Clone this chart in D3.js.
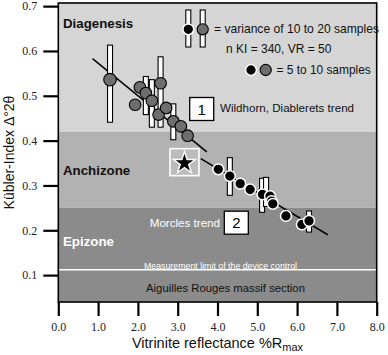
<!DOCTYPE html>
<html>
<head>
<meta charset="utf-8">
<script src="https://cdn.jsdelivr.net/npm/d3@7"></script>
<style>
  html, body { margin: 0; padding: 0; background: #fff; }
  svg { display: block; font-family: "Liberation Sans", Arial, sans-serif; }
</style>
</head>
<body>
<div id="chart"></div>
<script>
// ---- data ----
const xTicks = [0, 1, 2, 3, 4, 5, 6, 7, 8];
const yTicks = [0.1, 0.2, 0.3, 0.4, 0.5, 0.6, 0.7];

// zones (Kübler-Index limits)
const zoneNames = ['Diagenesis', 'Anchizone', 'Epizone'];
const zoneTop = [0.707, 0.42, 0.25];
const zoneBottom = [0.42, 0.25, 0.04];
const zoneFill = ['#d5d5d5', '#b2b2b2', '#8b8b8b'];
const measureLimit = 0.112;

// Wildhorn, Diablerets samples (grey)
const grayVR = [1.30, 2.05, 2.20, 1.93, 2.35, 2.57, 2.52, 2.71, 2.89, 3.08, 3.25];
const grayKI = [0.536, 0.519, 0.506, 0.480, 0.489, 0.528, 0.458, 0.473, 0.443, 0.432, 0.411];
// Morcles samples (black)
const blackVR = [4.02, 4.31, 4.57, 4.82, 5.13, 5.32, 5.36, 5.39, 5.72, 6.12, 6.30];
const blackKI = [0.336, 0.321, 0.304, 0.291, 0.280, 0.276, 0.265, 0.259, 0.232, 0.213, 0.221];

// variance bars
const barVR = [1.30, 2.20, 2.35, 2.57, 2.89, 4.31, 5.12, 5.22, 6.30];
const barLow = [0.441, 0.458, 0.430, 0.430, 0.402, 0.278, 0.240, 0.253, 0.196];
const barHigh = [0.613, 0.543, 0.536, 0.587, 0.482, 0.362, 0.316, 0.318, 0.243];

// trend lines
const trend1 = [[0.86, 0.583], [3.73, 0.375]];
const trend2 = [[3.58, 0.360], [6.77, 0.190]];

// star sample
const star = [3.17, 0.352];

const width = 388, height = 355;
const margin = { top: 3, right: 11.3, bottom: 53, left: 58.3 };

const svg = d3.select('#chart').append('svg')
  .attr('width', width)
  .attr('height', height);

const x = d3.scaleLinear().domain([0, 8]).range([margin.left, width - margin.right]);
const y = d3.scaleLinear().domain([0.04, 0.707]).range([height - margin.bottom, margin.top]);

// ZONES
svg.append('g').selectAll('rect')
  .data(zoneNames)
  .join('rect')
  .attr('x', x(0))
  .attr('width', x(8) - x(0))
  .attr('y', (d, i) => y(zoneTop[i]))
  .attr('height', (d, i) => y(zoneBottom[i]) - y(zoneTop[i]))
  .attr('fill', (d, i) => zoneFill[i]);

// measurement limit
svg.append('line')
  .attr('x1', x(0)).attr('x2', x(8))
  .attr('y1', y(measureLimit)).attr('y2', y(measureLimit))
  .attr('stroke', '#fff').attr('stroke-width', 1.5);

// AXES
const yAxis = svg.append('g')
  .attr('transform', `translate(${x(0)},0)`)
  .call(d3.axisLeft(y).tickValues(yTicks).tickFormat(d3.format('.1f')).tickSize(15).tickPadding(6).tickSizeOuter(0));
const xAxis = svg.append('g')
  .attr('transform', `translate(0,${y(0.04)})`)
  .call(d3.axisBottom(x).tickValues(xTicks).tickFormat(d3.format('.1f')).tickSize(14).tickPadding(6).tickSizeOuter(0));
[xAxis, yAxis].forEach(g => {
  g.select('.domain').remove();
  g.selectAll('.tick line').attr('stroke', '#000').attr('stroke-width', 2.2);
  g.selectAll('text')
    .attr('font-family', '"Liberation Serif", "Times New Roman", serif')
    .attr('font-size', 12)
    .attr('fill', '#222');
});

// frame
svg.append('rect')
  .attr('x', x(0)).attr('y', y(0.707))
  .attr('width', x(8) - x(0)).attr('height', y(0.04) - y(0.707))
  .attr('fill', 'none').attr('stroke', '#000').attr('stroke-width', 1.6);

// zone labels
svg.append('text').attr('x', 63).attr('y', 28).text('Diagenesis')
  .attr('font-weight', 'bold').attr('font-size', 13.3).attr('fill', '#111');
svg.append('text').attr('x', 63).attr('y', 175).text('Anchizone')
  .attr('font-weight', 'bold').attr('font-size', 13.3).attr('fill', '#111');
svg.append('text').attr('x', 63).attr('y', 246).text('Epizone')
  .attr('font-weight', 'bold').attr('font-size', 13.3).attr('fill', '#fff');
svg.append('text').attr('x', 220.5).attr('y', 268.5).text('Measurement limit of the device control')
  .attr('text-anchor', 'middle').attr('font-size', 8.8).attr('fill', '#fff');
svg.append('text').attr('x', 225.5).attr('y', 291.5).text('Aiguilles Rouges massif section')
  .attr('text-anchor', 'middle').attr('font-size', 11.3).attr('fill', '#111');

// TREND LINES
const line = d3.line().x(d => x(d[0])).y(d => y(d[1]));
[trend1, trend2].forEach(t => {
  svg.append('path').datum(t).attr('d', line)
    .attr('fill', 'none').attr('stroke', '#000').attr('stroke-width', 1.5);
});

// VARIANCE BARS
svg.append('g').selectAll('rect')
  .data(barVR)
  .join('rect')
  .attr('x', d => x(d) - 2.5)
  .attr('width', 5)
  .attr('y', (d, i) => y(barHigh[i]))
  .attr('height', (d, i) => y(barLow[i]) - y(barHigh[i]))
  .attr('fill', '#fff').attr('stroke', '#000').attr('stroke-width', 1.1);

// POINTS
svg.append('g').selectAll('circle')
  .data(grayVR)
  .join('circle')
  .attr('cx', d => x(d))
  .attr('cy', (d, i) => y(grayKI[i]))
  .attr('r', (d, i) => i === 0 ? 6.3 : 5.8)
  .attr('fill', '#6e6e6e').attr('stroke', '#000').attr('stroke-width', 1.1);

svg.append('g').selectAll('circle')
  .data(blackVR)
  .join('circle')
  .attr('cx', d => x(d))
  .attr('cy', (d, i) => y(blackKI[i]))
  .attr('r', 5.4)
  .attr('fill', '#000').attr('stroke', '#fff').attr('stroke-width', 1.5);

// STAR BOX
const sx = x(star[0]), sy = y(star[1]);
svg.append('rect')
  .attr('x', sx - 14.5).attr('y', sy - 13.5).attr('width', 29).attr('height', 27)
  .attr('fill', '#bcbcbc').attr('stroke', '#fff').attr('stroke-width', 1.6);
svg.append('path')
  .attr('transform', `translate(${sx},${sy + 1})`)
  .attr('d', d3.symbol(d3.symbolStar, 150)())
  .attr('fill', '#000').attr('stroke', '#fff').attr('stroke-width', 1.4);

// numbered trend labels
function numBox(cx, cy, label) {
  svg.append('rect').attr('x', cx - 12).attr('y', cy - 11.5).attr('width', 24).attr('height', 23)
    .attr('fill', '#fff').attr('stroke', '#000').attr('stroke-width', 1.3);
  svg.append('text').attr('x', cx).attr('y', cy + 5.5).attr('text-anchor', 'middle')
    .attr('font-size', 15).attr('fill', '#000').text(label);
}
numBox(201.7, 109, '1');
svg.append('text').attr('x', 220).attr('y', 112).attr('font-size', 11.6).attr('fill', '#111')
  .text('Wildhorn, Diablerets trend');
numBox(236.3, 222.7, '2');
svg.append('text').attr('x', 220).attr('y', 227).attr('text-anchor', 'end')
  .attr('font-size', 11.6).attr('fill', '#fff').text('Morcles trend');

// LEGEND
const lx1 = 188.3, lx2 = 202.7, ly = 29.3;
[lx1, lx2].forEach(lx => {
  svg.append('rect').attr('x', lx - 2.5).attr('y', 10).attr('width', 5).attr('height', 37)
    .attr('fill', '#fff').attr('stroke', '#000').attr('stroke-width', 1.1);
});
svg.append('circle').attr('cx', lx1).attr('cy', ly).attr('r', 5.4)
  .attr('fill', '#000').attr('stroke', '#fff').attr('stroke-width', 1.5);
svg.append('circle').attr('cx', lx2).attr('cy', ly).attr('r', 5.6)
  .attr('fill', '#6e6e6e').attr('stroke', '#000').attr('stroke-width', 1.1);
svg.append('text').attr('x', 214).attr('y', 33).attr('font-size', 12.1).attr('fill', '#111')
  .text('= variance of 10 to 20 samples');
svg.append('text').attr('x', 226).attr('y', 52.5).attr('font-size', 12).attr('fill', '#111')
  .text('n KI = 340, VR = 50');
svg.append('circle').attr('cx', 251).attr('cy', 70).attr('r', 5.4)
  .attr('fill', '#000').attr('stroke', '#fff').attr('stroke-width', 1.5);
svg.append('circle').attr('cx', 265.7).attr('cy', 70).attr('r', 5.6)
  .attr('fill', '#6e6e6e').attr('stroke', '#000').attr('stroke-width', 1.1);
svg.append('text').attr('x', 276.5).attr('y', 74).attr('font-size', 11.9).attr('fill', '#111')
  .text('= 5 to 10 samples');

// AXIS TITLES
const xt = svg.append('text')
  .attr('x', (x(0) + x(8)) / 2).attr('y', 348)
  .attr('text-anchor', 'middle').attr('font-size', 14.5).attr('fill', '#111');
xt.append('tspan').text('Vitrinite reflectance %R');
xt.append('tspan').attr('font-size', 11).attr('dy', 3).text('max');

svg.append('text')
  .attr('transform', `translate(14,${(y(0.707) + y(0.04)) / 2}) rotate(-90)`)
  .attr('text-anchor', 'middle').attr('font-size', 14).attr('fill', '#111')
  .text('Kübler-Index Δ°2θ');
</script>
</body>
</html>
